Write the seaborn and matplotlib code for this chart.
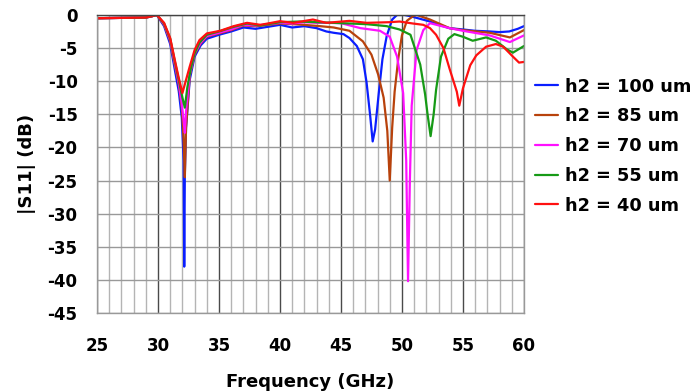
import matplotlib
matplotlib.use("Agg")
import matplotlib.pyplot as plt
import seaborn as sns
import pandas as pd

# ---- data ----
labels = ["h2 = 100 um", "h2 = 85 um", "h2 = 70 um", "h2 = 55 um", "h2 = 40 um"]
colors = ["#0a1eff", "#b8420c", "#ff10ff", "#169a16", "#ff1010"]

f_100 = [25, 27, 29, 29.5, 29.9, 30.5, 31, 31.4, 31.7, 31.95, 32.1, 32.15, 32.2, 32.3, 32.6, 33, 33.5,
         34, 35, 36, 37, 38, 39, 40, 41, 42, 43, 43.8, 44.4, 45.2, 45.7, 46.3, 46.8, 47.1, 47.4, 47.6,
         47.8, 48.1, 48.4, 48.75, 49.2, 49.6, 50.2, 50.7, 51.5, 52.3, 53.2, 53.9, 55, 56, 57.2, 58,
         58.8, 59.5, 60]
s_100 = [-0.5, -0.45, -0.4, -0.2, 0, -1.7, -4.4, -8.5, -11.5, -15.5, -22, -38, -24, -17, -9.8, -6.3, -4.6,
         -3.6, -3.0, -2.5, -1.9, -2.1, -1.8, -1.5, -1.9, -1.7, -2.0, -2.5, -2.7, -2.9, -3.5, -4.7, -6.7,
         -10.2, -15.3, -19.1, -17.3, -11.8, -6.7, -3.2, -0.7, 0, 0, -0.2, -0.6, -1.0, -1.6, -2.0, -2.2,
         -2.4, -2.5, -2.6, -2.5, -2.1, -1.7]

f_85 = [25, 27, 29, 29.5, 29.9, 30.5, 31, 31.4, 31.7, 31.95, 32.1, 32.2, 32.3, 32.6, 33, 33.5, 34, 35,
        36, 37, 38, 39, 40, 41.6, 43.3, 44.4, 45.7, 46.8, 47.5, 48.05, 48.5, 48.8, 49.0, 49.2, 49.4,
        49.7, 50.0, 50.4, 50.9, 51.2, 52.3, 53.9, 55, 57.2, 58.85, 60]
s_85 = [-0.5, -0.45, -0.4, -0.2, 0, -1.5, -4.0, -7.8, -10.5, -14, -19, -24.5, -17, -9.2, -6.0, -4.3, -3.3,
        -2.8, -2.3, -1.6, -1.7, -1.5, -1.3, -1.45, -1.7, -1.9, -2.4, -4.0, -6.0, -9.0, -12.5, -17.5,
        -25, -17, -11.6, -6.6, -3.1, -0.9, -0.2, 0, -0.7, -2.0, -2.3, -2.7, -3.4, -2.3]

f_70 = [25, 27, 29, 29.5, 29.9, 30.5, 31, 31.4, 31.7, 31.95, 32.1, 32.2, 32.3, 32.6, 33, 33.5, 34, 35,
        36, 37, 38, 39, 40, 41, 42, 43, 44, 45, 46.6, 48.2, 49.0, 49.6, 50.1, 50.35, 50.5, 50.65, 50.8,
        51.2, 51.75, 52.3, 53.9, 55, 57.2, 58.85, 60]
s_70 = [-0.5, -0.45, -0.4, -0.2, 0, -1.4, -3.8, -7.5, -10.2, -13.5, -16, -17.8, -14.5, -9.0, -5.8, -4.2,
        -3.2, -2.7, -2.2, -1.5, -1.6, -1.4, -1.2, -1.3, -1.1, -1.2, -1.2, -1.25, -2.0, -2.4, -3.3, -6.3,
        -11.8, -22, -40.2, -25, -13.7, -5.3, -2.3, -1.25, -2.0, -2.4, -3.1, -4.1, -3.1]

f_55 = [25, 27, 29, 29.5, 29.9, 30.5, 31, 31.4, 31.7, 32.0, 32.2, 32.4, 32.7, 33, 33.4, 34, 35, 36.2,
        37.3, 38.4, 39, 40, 41.6, 44.4, 47.1, 48.75, 49.8, 50.7, 51.5, 51.9, 52.1, 52.35, 52.6, 52.8,
        53.2, 53.8, 54.3, 55, 55.8, 56.9, 57.7, 58.6, 59.1, 60]
s_55 = [-0.5, -0.45, -0.4, -0.2, 0, -1.3, -3.6, -7.2, -9.8, -12.5, -14, -11, -8.0, -5.8, -4.2, -3.0, -2.5,
        -1.8, -1.3, -1.6, -1.4, -1.1, -1.0, -1.2, -1.4, -1.7, -2.2, -3.0, -7.5, -12, -15, -18.3, -15,
        -11.3, -6.3, -3.6, -2.9, -3.3, -3.9, -3.4, -3.9, -5.2, -5.7, -4.7]

f_40 = [25, 27, 29, 29.5, 29.9, 30.5, 31, 31.4, 31.7, 32.0, 32.3, 32.6, 33.0, 33.4, 34.0, 35.1, 36.2,
        37.3, 38.4, 39, 40, 41.1, 42.7, 43.8, 45.7, 47.1, 49.0, 49.8, 50.9, 51.75, 52.3, 52.8, 53.4,
        53.9, 54.5, 54.7, 55.0, 55.6, 56.1, 56.9, 57.7, 58.3, 59.1, 59.6, 60]
s_40 = [-0.5, -0.45, -0.4, -0.2, 0, -1.2, -3.5, -7.0, -9.5, -11.8, -9.8, -7.8, -5.3, -3.8, -2.8, -2.4,
        -1.7, -1.2, -1.5, -1.3, -0.95, -1.2, -0.7, -1.2, -0.9, -1.2, -1.1, -1.0, -1.3, -1.5, -2.0, -3.0,
        -5.0, -8.1, -11.6, -13.7, -11.1, -7.6, -6.1, -4.8, -4.4, -4.8, -6.3, -7.2, -7.1]

x_ticks = [25, 30, 35, 40, 45, 50, 55, 60]
y_ticks = [0, -5, -10, -15, -20, -25, -30, -35, -40, -45]

series = [(f_100, s_100), (f_85, s_85), (f_70, s_70), (f_55, s_55), (f_40, s_40)]
frames = []
for lab, (fx, sy) in zip(labels, series):
    frames.append(pd.DataFrame({"Frequency": fx, "S11": sy, "series": lab}))
df = pd.concat(frames, ignore_index=True)

sns.set_theme(style="white")
plt.rcParams["font.family"] = ["DejaVu Sans"]
plt.rcParams["text.color"] = "black"
plt.rcParams["axes.labelcolor"] = "black"
plt.rcParams["xtick.color"] = "black"
plt.rcParams["ytick.color"] = "black"

fig = plt.figure(figsize=(6.93, 3.92), dpi=100)
ax = fig.add_axes([0.140, 0.2015, 0.616, 0.7605])

sns.lineplot(data=df, x="Frequency", y="S11", hue="series", hue_order=labels,
             palette=dict(zip(labels, colors)), estimator=None, sort=True,
             linewidth=1.6, ax=ax, legend=True)

ax.set_xlim(25, 60)
ax.set_ylim(-45, 0)
ax.set_xticks(x_ticks)
ax.set_xticks(range(25, 61), minor=True)
ax.set_yticks(y_ticks)
ax.set_xticklabels([str(v) for v in x_ticks], fontsize=12, fontweight="bold", color="black")
ax.set_yticklabels([str(v) for v in y_ticks], fontsize=12, fontweight="bold", color="black")
ax.tick_params(axis="both", which="both", length=0)
ax.tick_params(axis="y", pad=14)
ax.tick_params(axis="x", pad=17)

ax.grid(False)
ax.xaxis.grid(True, which="minor", color="#b4b4b4", linewidth=1.0)
ax.xaxis.grid(True, which="major", color="#4a4a4a", linewidth=1.0)
ax.yaxis.grid(True, which="major", color="#999999", linewidth=1.0)
ax.set_axisbelow(True)
for side, sp in ax.spines.items():
    sp.set_color("#999999")
    sp.set_linewidth(1.0)
ax.spines["top"].set_color("#444444")

ax.set_xlabel("Frequency (GHz)", fontsize=13, fontweight="bold", labelpad=13, color="black")
ax.set_ylabel("|S11| (dB)", fontsize=13, fontweight="bold", labelpad=8, color="black")

h, l = ax.get_legend_handles_labels()
ax.get_legend().remove()
leg = fig.legend(h, l, loc="upper left", bbox_to_anchor=(0.762, 0.82), frameon=False,
                 prop={"size": 12.8, "weight": "bold"}, handlelength=1.3, handletextpad=0.35,
                 labelspacing=0.66, borderaxespad=0)
for t in leg.get_texts():
    t.set_color("black")

fig.savefig("out.png", dpi=100, facecolor="white")
